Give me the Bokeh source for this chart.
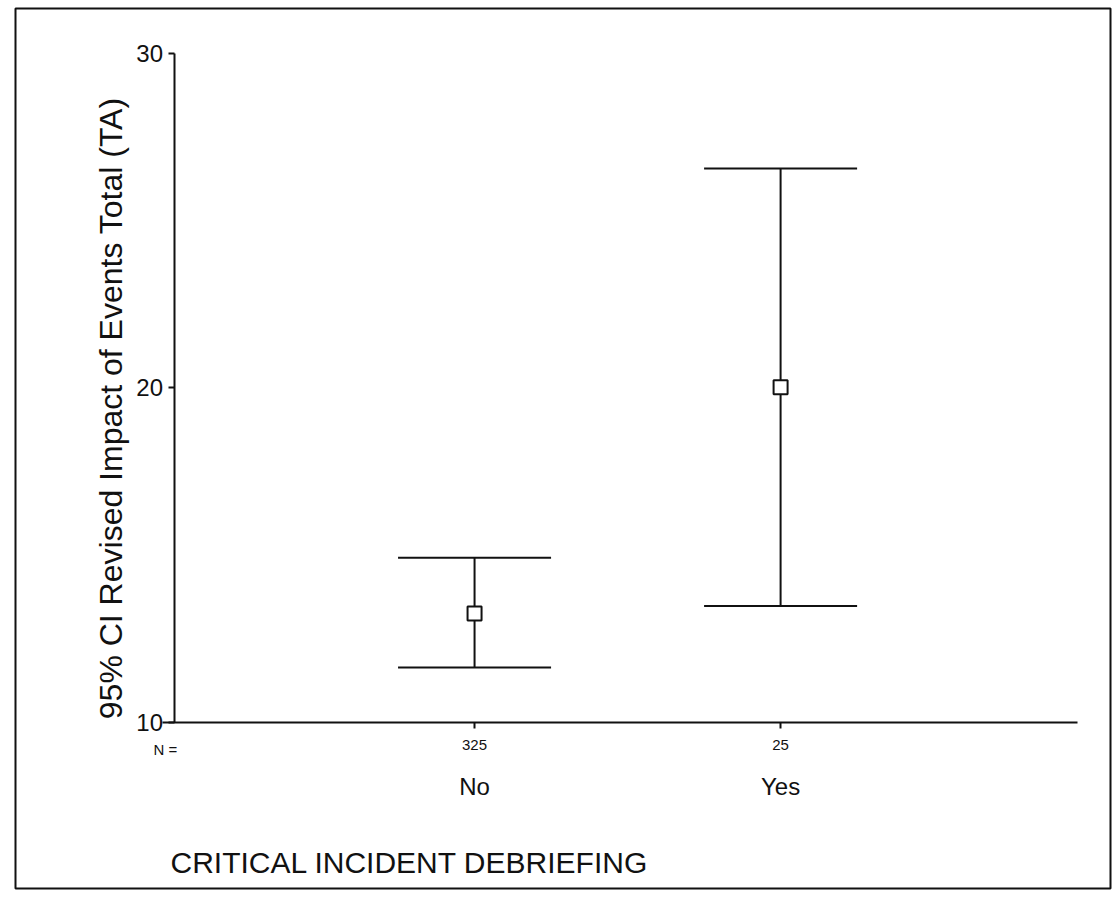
import math
from bokeh.plotting import figure
from bokeh.models import (ColumnDataSource, Range1d, LinearAxis, FixedTicker, Label)
from bokeh.embed import file_html
from bokeh.resources import INLINE

# ---- data ----
categories = ["No", "Yes"]
cat_pos = [1, 2]
n_counts = [325, 25]
means = [13.25, 20.02]
ci_lower = [11.64, 13.48]
ci_upper = [14.92, 26.56]
y_ticks = [10, 20, 30]

FONT = "Liberation Sans"

src = ColumnDataSource(dict(
    x=cat_pos, mean=means, lo=ci_lower, hi=ci_upper,
    x0=[c - 0.25 for c in cat_pos], x1=[c + 0.25 for c in cat_pos],
))

# frame spans the outer border of the scanned chart; axes are fixed inside
p = figure(width=1114, height=899, output_backend="svg", toolbar_location=None,
           x_range=Range1d(-0.5, 3.078), y_range=Range1d(5.03, 31.345),
           min_border_left=15, min_border_right=4, min_border_top=8, min_border_bottom=11,
           background_fill_color="white", border_fill_color="white")
p.outline_line_color = "#111111"
p.outline_line_width = 2
p.grid.visible = False

# y axis
ya = p.yaxis[0]
ya.fixed_location = 0.018
ya.bounds = (10, 30)
ya.ticker = FixedTicker(ticks=y_ticks)
ya.minor_tick_line_color = None
ya.major_tick_out = 6
ya.major_tick_in = 0
ya.major_tick_line_width = 2
ya.axis_line_width = 2
ya.axis_line_color = "#111111"
ya.major_tick_line_color = "#111111"
ya.major_label_text_font = FONT
ya.major_label_text_font_size = "24px"
ya.major_label_text_color = "#111111"
ya.major_label_standoff = 5

# x axis with N counts
xa = p.xaxis[0]
xa.fixed_location = 10
xa.bounds = (-0.02, 2.97)
xa.ticker = FixedTicker(ticks=cat_pos)
xa.major_label_overrides = {c: str(nv) for c, nv in zip(cat_pos, n_counts)}
xa.minor_tick_line_color = None
xa.major_tick_out = 6
xa.major_tick_in = 0
xa.major_tick_line_width = 2
xa.axis_line_width = 2
xa.axis_line_color = "#111111"
xa.major_tick_line_color = "#111111"
xa.major_label_text_font = FONT
xa.major_label_text_font_size = "15px"
xa.major_label_text_color = "#111111"
xa.major_label_standoff = 12

# second x axis with category names
xa2 = LinearAxis(ticker=FixedTicker(ticks=cat_pos),
                 major_label_overrides={c: s for c, s in zip(cat_pos, categories)})
xa2.fixed_location = 10
xa2.axis_line_color = None
xa2.major_tick_line_color = None
xa2.minor_tick_line_color = None
xa2.major_label_text_font = FONT
xa2.major_label_text_font_size = "24px"
xa2.major_label_text_color = "#111111"
xa2.major_label_standoff = 45
p.add_layout(xa2, "below")

# error bars
p.segment(x0="x", y0="lo", x1="x", y1="hi", source=src, line_color="#111111", line_width=2)
p.segment(x0="x0", y0="hi", x1="x1", y1="hi", source=src, line_color="#111111", line_width=2)
p.segment(x0="x0", y0="lo", x1="x1", y1="lo", source=src, line_color="#111111", line_width=2)
p.scatter(x="x", y="mean", source=src, marker="square", size=14,
          fill_color="white", line_color="#111111", line_width=2)

# texts
p.add_layout(Label(x=-0.01, y=10, text="N =", text_font=FONT, text_font_size="15px",
                   text_color="#111111", text_align="center", text_baseline="top",
                   y_offset=-19))
p.add_layout(Label(x=-0.1895, y=19.39, text="95% CI Revised Impact of Events Total (TA)",
                   angle=math.pi / 2, text_font=FONT, text_font_size="32px",
                   text_color="#111111", text_align="center", text_baseline="middle"))
p.add_layout(Label(x=0.0065, y=5.8, text="CRITICAL INCIDENT DEBRIEFING",
                   text_font=FONT, text_font_size="30px",
                   text_color="#111111", text_align="left", text_baseline="alphabetic"))

open("out.html", "w").write(file_html(p, INLINE))
